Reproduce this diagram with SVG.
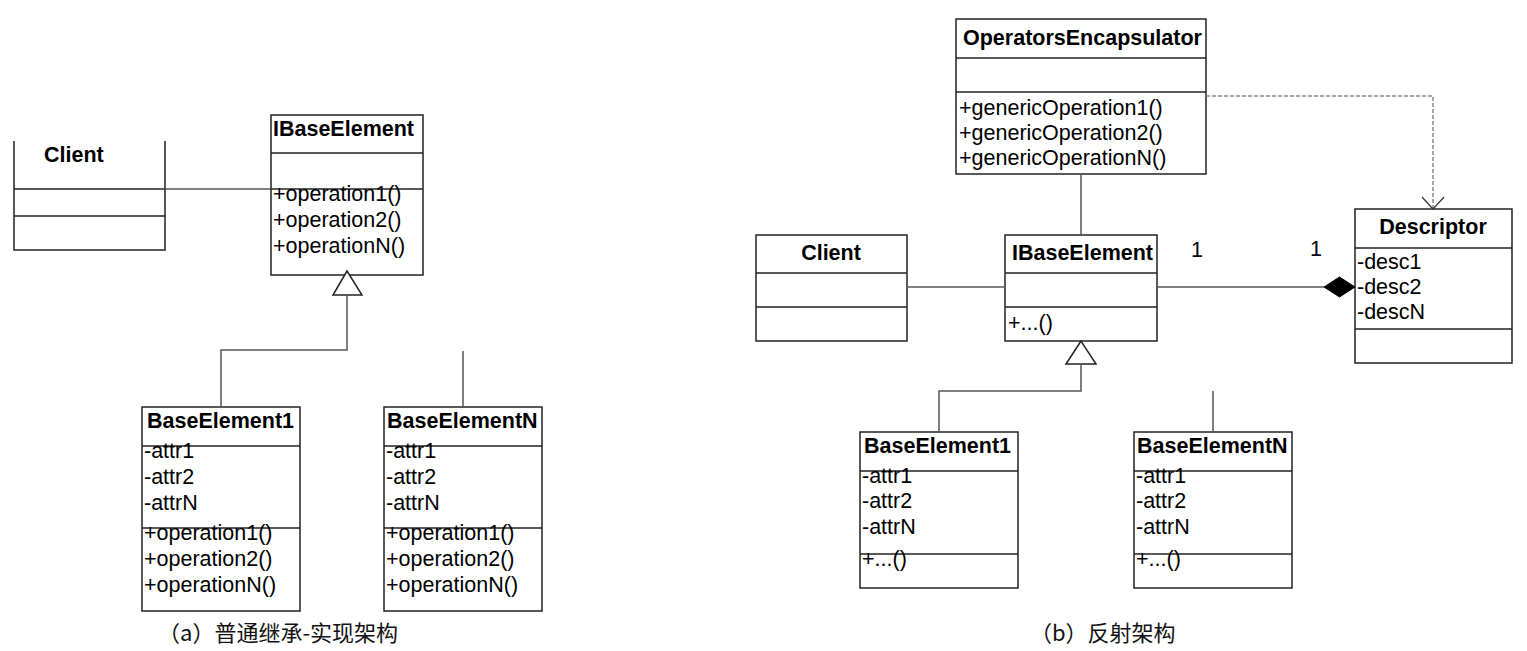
<svg xmlns="http://www.w3.org/2000/svg" width="1527" height="651" viewBox="0 0 1527 651">
<style>
.box{fill:#fff;stroke:#222;stroke-width:1.5}
.div{stroke:#222;stroke-width:1.5;fill:none}
.con{stroke:#555;stroke-width:1.5;fill:none}
.dash{stroke:#888;stroke-width:1.5;fill:none;stroke-dasharray:4 2}
.t{font-family:"Liberation Sans",Arial,sans-serif;font-size:21.5px;fill:#000}
.b{font-weight:bold}
.cap{font-family:"Noto Sans CJK SC","Noto Sans",sans-serif;font-size:22px;fill:#111}
</style>
<rect width="1527" height="651" fill="#fff"/>

<!-- Left diagram (a) -->
<g id="a-client">
  <path class="div" d="M14,141 V250 H165 V141"/>
  <line class="div" x1="14" y1="189" x2="165" y2="189"/>
  <line class="div" x1="14" y1="216" x2="165" y2="216"/>
  <text class="t b" x="44" y="162">Client</text>
</g>
<g id="a-ibase">
  <rect class="box" x="271" y="115" width="152" height="160"/>
  <line class="div" x1="271" y1="153" x2="423" y2="153"/>
  <line class="div" x1="271" y1="189" x2="423" y2="189"/>
  <text class="t b" x="273" y="136">IBaseElement</text>
  <text class="t" x="273" y="201">+operation1()</text>
  <text class="t" x="273" y="227">+operation2()</text>
  <text class="t" x="273" y="253">+operationN()</text>
</g>
<g id="a-be1">
  <rect class="box" x="142" y="407" width="158" height="204"/>
  <line class="div" x1="142" y1="446" x2="300" y2="446"/>
  <line class="div" x1="142" y1="528" x2="300" y2="528"/>
  <text class="t b" x="147" y="428">BaseElement1</text>
  <text class="t" x="144" y="458">-attr1</text>
  <text class="t" x="144" y="484">-attr2</text>
  <text class="t" x="144" y="510">-attrN</text>
  <text class="t" x="144" y="540">+operation1()</text>
  <text class="t" x="144" y="566">+operation2()</text>
  <text class="t" x="144" y="592">+operationN()</text>
</g>
<g id="a-ben">
  <rect class="box" x="384" y="407" width="158" height="204"/>
  <line class="div" x1="384" y1="446" x2="542" y2="446"/>
  <line class="div" x1="384" y1="528" x2="542" y2="528"/>
  <text class="t b" x="387" y="428">BaseElementN</text>
  <text class="t" x="386" y="458">-attr1</text>
  <text class="t" x="386" y="484">-attr2</text>
  <text class="t" x="386" y="510">-attrN</text>
  <text class="t" x="386" y="540">+operation1()</text>
  <text class="t" x="386" y="566">+operation2()</text>
  <text class="t" x="386" y="592">+operationN()</text>
</g>

<!-- Right diagram (b) -->
<g id="b-oe">
  <rect class="box" x="956" y="19" width="250" height="155"/>
  <line class="div" x1="956" y1="58" x2="1206" y2="58"/>
  <line class="div" x1="956" y1="92" x2="1206" y2="92"/>
  <text class="t b" x="963" y="45">OperatorsEncapsulator</text>
  <text class="t" x="959" y="115">+genericOperation1()</text>
  <text class="t" x="959" y="140">+genericOperation2()</text>
  <text class="t" x="959" y="165">+genericOperationN()</text>
</g>
<g id="b-client">
  <rect class="box" x="756" y="235" width="151" height="106"/>
  <line class="div" x1="756" y1="273" x2="907" y2="273"/>
  <line class="div" x1="756" y1="307" x2="907" y2="307"/>
  <text class="t b" x="831" y="260" text-anchor="middle">Client</text>
</g>
<g id="b-ibase">
  <rect class="box" x="1005" y="235" width="152" height="106"/>
  <line class="div" x1="1005" y1="273" x2="1157" y2="273"/>
  <line class="div" x1="1005" y1="307" x2="1157" y2="307"/>
  <text class="t b" x="1012" y="260">IBaseElement</text>
  <text class="t" x="1008" y="330">+...()</text>
</g>
<g id="b-desc">
  <rect class="box" x="1355" y="209" width="157" height="154"/>
  <line class="div" x1="1355" y1="248" x2="1512" y2="248"/>
  <line class="div" x1="1355" y1="329" x2="1512" y2="329"/>
  <text class="t b" x="1433" y="234" text-anchor="middle">Descriptor</text>
  <text class="t" x="1357" y="269">-desc1</text>
  <text class="t" x="1357" y="294">-desc2</text>
  <text class="t" x="1357" y="319">-descN</text>
</g>
<g id="b-be1">
  <rect class="box" x="860" y="432" width="158" height="156"/>
  <line class="div" x1="860" y1="471" x2="1018" y2="471"/>
  <line class="div" x1="860" y1="554" x2="1018" y2="554"/>
  <text class="t b" x="864" y="453">BaseElement1</text>
  <text class="t" x="862" y="483">-attr1</text>
  <text class="t" x="862" y="508">-attr2</text>
  <text class="t" x="862" y="534">-attrN</text>
  <text class="t" x="862" y="566">+...()</text>
</g>
<g id="b-ben">
  <rect class="box" x="1134" y="432" width="158" height="156"/>
  <line class="div" x1="1134" y1="471" x2="1292" y2="471"/>
  <line class="div" x1="1134" y1="554" x2="1292" y2="554"/>
  <text class="t b" x="1137" y="453">BaseElementN</text>
  <text class="t" x="1136" y="483">-attr1</text>
  <text class="t" x="1136" y="508">-attr2</text>
  <text class="t" x="1136" y="534">-attrN</text>
  <text class="t" x="1136" y="566">+...()</text>
</g>

<g id="connectors">
  <!-- (a) -->
  <line class="con" x1="165" y1="189" x2="271" y2="189"/>
  <polygon points="347,271 333,295 362,295" fill="#fff" stroke="#222" stroke-width="1.5"/>
  <path class="con" d="M347,295 V350 H221 V407"/>
  <line class="con" x1="463" y1="351" x2="463" y2="407"/>
  <!-- (b) -->
  <line class="con" x1="1081" y1="174" x2="1081" y2="235"/>
  <line class="con" x1="907" y1="287" x2="1005" y2="287"/>
  <line class="con" x1="1157" y1="287" x2="1324" y2="287"/>
  <polygon points="1324,287 1339.5,277 1355,287 1339.5,297" fill="#000" stroke="#000" stroke-width="1"/>
  <path class="dash" d="M1206,96 H1433 V208"/>
  <path d="M1422,197 L1433,209 L1444,197" fill="none" stroke="#333" stroke-width="1.2"/>
  <polygon points="1081,341 1066,364 1096,364" fill="#fff" stroke="#222" stroke-width="1.5"/>
  <path class="con" d="M1081,364 V391 H939 V432"/>
  <line class="con" x1="1213" y1="391" x2="1213" y2="432"/>
  <text class="t" x="1197" y="257" text-anchor="middle">1</text>
  <text class="t" x="1316" y="256" text-anchor="middle">1</text>
</g>

<text class="cap" x="158" y="641">（a）普通继承-实现架构</text>
<text class="cap" x="1030" y="641">（b）反射架构</text>
</svg>
